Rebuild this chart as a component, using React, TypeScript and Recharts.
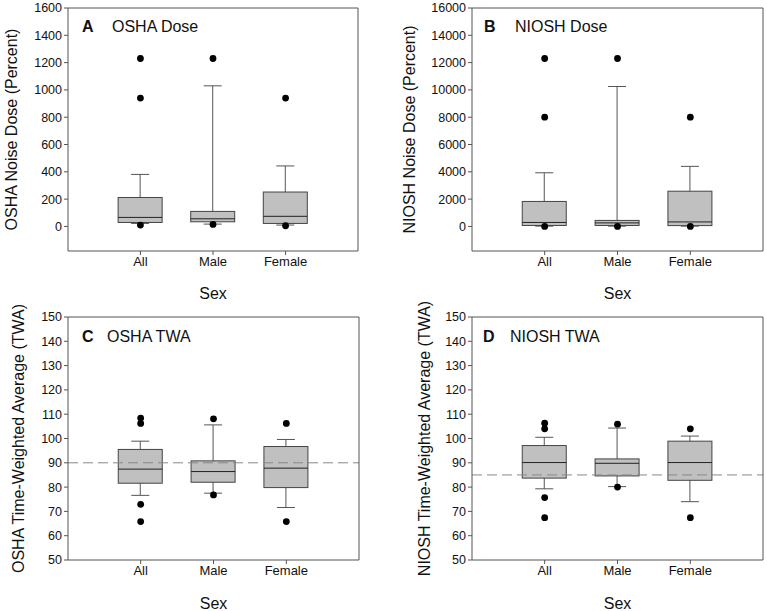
import React from 'react';
import { ComposedChart, Bar, Scatter, XAxis, YAxis, ReferenceLine } from 'recharts';

const sexes = ['All', 'Male', 'Female'];

// A - OSHA dose (percent)
const oshaDoseLow = [22, 17, 10];
const oshaDoseQ1 = [29, 34, 22];
const oshaDoseMedian = [66, 56, 74];
const oshaDoseQ3 = [212, 110, 252];
const oshaDoseHigh = [381, 1030, 443];
const oshaDoseOutSex = ['All', 'All', 'All', 'Male', 'Male', 'Female', 'Female'];
const oshaDoseOutVal = [1230, 940, 10, 1230, 15, 940, 5];
const oshaDoseTicks = [0, 200, 400, 600, 800, 1000, 1200, 1400, 1600];

// B - NIOSH dose (percent)
const nioshDoseLow = [20, 20, 20];
const nioshDoseQ1 = [70, 70, 60];
const nioshDoseMedian = [290, 260, 330];
const nioshDoseQ3 = [1830, 440, 2580];
const nioshDoseHigh = [3930, 10250, 4400];
const nioshDoseOutSex = ['All', 'All', 'All', 'Male', 'Male', 'Female', 'Female'];
const nioshDoseOutVal = [12300, 8000, 0, 12300, 0, 8000, 0];
const nioshDoseTicks = [0, 2000, 4000, 6000, 8000, 10000, 12000, 14000, 16000];

// C - OSHA TWA
const oshaTwaLow = [76.6, 77.5, 71.6];
const oshaTwaQ1 = [81.6, 82, 79.8];
const oshaTwaMedian = [87.4, 86.4, 87.8];
const oshaTwaQ3 = [95.5, 90.8, 96.7];
const oshaTwaHigh = [98.9, 105.6, 99.6];
const oshaTwaOutSex = ['All', 'All', 'All', 'All', 'Male', 'Male', 'Female', 'Female'];
const oshaTwaOutVal = [108.4, 106.2, 72.9, 65.8, 108.1, 76.8, 106.2, 65.8];

// D - NIOSH TWA
const nioshTwaLow = [79.3, 80.2, 74];
const nioshTwaQ1 = [83.7, 84.6, 82.8];
const nioshTwaMedian = [90.1, 89.8, 90.1];
const nioshTwaQ3 = [97.1, 91.6, 98.9];
const nioshTwaHigh = [100.5, 104.3, 101];
const nioshTwaOutSex = ['All', 'All', 'All', 'All', 'Male', 'Male', 'Female', 'Female'];
const nioshTwaOutVal = [106.3, 104, 75.7, 67.4, 105.9, 80, 104, 67.4];

const twaTicks = [50, 60, 70, 80, 90, 100, 110, 120, 130, 140, 150];

const AXIS = '#555';
const TEXT = '#111';

function boxes(low: number[], q1: number[], med: number[], q3: number[], high: number[]) {
  return sexes.map((sex, i) => ({ sex, low: low[i], q1: q1[i], med: med[i], q3: q3[i], high: high[i] }));
}

function outliers(sex: string[], val: number[]) {
  return sex.map((s, i) => ({ sex: s, v: val[i] }));
}

function BoxShape(props: any) {
  const { x, y, width, height, payload } = props;
  const top = Math.min(y, y + height);
  const bottom = Math.max(y, y + height);
  const span = payload.high - payload.low;
  const py = (v: number) => top + ((payload.high - v) / span) * (bottom - top);
  const cx = x + width / 2;
  const cap = 9;
  return (
    <g>
      <line x1={cx} x2={cx} y1={py(payload.high)} y2={py(payload.low)} stroke="#555" />
      <line x1={cx - cap} x2={cx + cap} y1={py(payload.high)} y2={py(payload.high)} stroke="#555" />
      <line x1={cx - cap} x2={cx + cap} y1={py(payload.low)} y2={py(payload.low)} stroke="#555" />
      <rect x={x} y={py(payload.q3)} width={width} height={py(payload.q1) - py(payload.q3)} fill="#c0c0c0" stroke="#444" />
      <line x1={x} x2={x + width} y1={py(payload.med)} y2={py(payload.med)} stroke="#222" />
    </g>
  );
}

const dot = (p: any) => <circle cx={p.cx} cy={p.cy} r={3.4} fill="#000" />;

type PanelProps = {
  left: number;
  top: number;
  width: number;
  height: number;
  yAxisWidth: number;
  marginTop: number;
  marginRight: number;
  xAxisHeight: number;
  sexOffset: number;
  yLabel: string;
  yLabelOffset: number;
  domain: [number, number];
  ticks: number[];
  data: any[];
  outs: any[];
  refY?: number;
};

function Panel(p: PanelProps) {
  const plotW = p.width - p.yAxisWidth - p.marginRight;
  const pad = plotW / 8;
  return (
    <div style={{ position: 'absolute', left: p.left, top: p.top }}>
      <ComposedChart
        width={p.width}
        height={p.height}
        data={p.data}
        margin={{ top: p.marginTop - 1, right: p.marginRight - 1, bottom: 0, left: 0 }}
      >
        <XAxis
          dataKey="sex"
          type="category"
          allowDuplicatedCategory={false}
          padding={{ left: pad, right: pad }}
          height={p.xAxisHeight}
          stroke={AXIS}
          tickSize={4}
          tick={{ fill: TEXT, fontSize: 13 }}
          label={{ value: 'Sex', position: 'insideBottom', offset: p.sexOffset, fill: TEXT, fontSize: 16 }}
        />
        <XAxis
          xAxisId="top"
          orientation="top"
          dataKey="sex"
          allowDuplicatedCategory={false}
          height={1}
          tick={false}
          tickLine={false}
          stroke={AXIS}
        />
        <YAxis
          domain={p.domain}
          ticks={p.ticks}
          allowDataOverflow
          width={p.yAxisWidth}
          stroke={AXIS}
          tickSize={4}
          interval={0}
          tick={{ fill: TEXT, fontSize: 12.5 }}
          label={{
            value: p.yLabel,
            angle: -90,
            position: 'insideLeft',
            offset: p.yLabelOffset,
            fill: TEXT,
            fontSize: 16,
            style: { textAnchor: 'middle' },
          }}
        />
        <YAxis
          yAxisId="right"
          orientation="right"
          domain={p.domain}
          ticks={p.ticks}
          allowDataOverflow
          width={1}
          mirror
          tick={false}
          tickSize={4}
          interval={0}
          stroke={AXIS}
        />
        {p.refY !== undefined && (
          <ReferenceLine y={p.refY} stroke="#888" strokeDasharray="10 5" />
        )}
        <Bar
          dataKey={(d: any) => [d.low, d.high]}
          barSize={44}
          shape={BoxShape}
          isAnimationActive={false}
        />
        <Scatter data={p.outs} dataKey="v" shape={dot} isAnimationActive={false} />
      </ComposedChart>
    </div>
  );
}

export default function App() {
  return (
    <div style={{ position: 'relative', width: 767, height: 611, background: '#fff', fontFamily: '"Liberation Sans", Arial, sans-serif' }}>
      <style>{'body{margin:0}'}</style>
      <Panel
        left={0} top={0} width={384} height={306}
        yAxisWidth={68} marginTop={8} marginRight={27} xAxisHeight={55} sexOffset={7}
        yLabel="OSHA Noise Dose (Percent)" yLabelOffset={11}
        domain={[-180, 1600]} ticks={oshaDoseTicks}
        data={boxes(oshaDoseLow, oshaDoseQ1, oshaDoseMedian, oshaDoseQ3, oshaDoseHigh)}
        outs={outliers(oshaDoseOutSex, oshaDoseOutVal)}
      />
      <Panel
        left={384} top={0} width={383} height={306}
        yAxisWidth={88} marginTop={8} marginRight={5} xAxisHeight={55} sexOffset={7}
        yLabel="NIOSH Noise Dose (Percent)" yLabelOffset={25}
        domain={[-1800, 16000]} ticks={nioshDoseTicks}
        data={boxes(nioshDoseLow, nioshDoseQ1, nioshDoseMedian, nioshDoseQ3, nioshDoseHigh)}
        outs={outliers(nioshDoseOutSex, nioshDoseOutVal)}
      />
      <Panel
        left={0} top={300} width={384} height={311}
        yAxisWidth={68} marginTop={17} marginRight={26} xAxisHeight={51} sexOffset={2}
        yLabel="OSHA Time-Weighted Average (TWA)" yLabelOffset={18}
        domain={[50, 150]} ticks={twaTicks}
        data={boxes(oshaTwaLow, oshaTwaQ1, oshaTwaMedian, oshaTwaQ3, oshaTwaHigh)}
        outs={outliers(oshaTwaOutSex, oshaTwaOutVal)}
        refY={90}
      />
      <Panel
        left={384} top={300} width={383} height={311}
        yAxisWidth={88} marginTop={17} marginRight={5} xAxisHeight={51} sexOffset={2}
        yLabel="NIOSH Time-Weighted Average (TWA)" yLabelOffset={40}
        domain={[50, 150]} ticks={twaTicks}
        data={boxes(nioshTwaLow, nioshTwaQ1, nioshTwaMedian, nioshTwaQ3, nioshTwaHigh)}
        outs={outliers(nioshTwaOutSex, nioshTwaOutVal)}
        refY={85}
      />
      <svg width={767} height={611} style={{ position: 'absolute', left: 0, top: 0, pointerEvents: 'none' }}>
        <g fill={TEXT} fontSize={16}>
          <text x={82} y={32} fontWeight="bold">A</text>
          <text x={112} y={32}>OSHA Dose</text>
          <text x={484} y={32} fontWeight="bold">B</text>
          <text x={515} y={32}>NIOSH Dose</text>
          <text x={82} y={342} fontWeight="bold">C</text>
          <text x={107} y={342}>OSHA TWA</text>
          <text x={483} y={342} fontWeight="bold">D</text>
          <text x={510} y={342}>NIOSH TWA</text>
        </g>
      </svg>
    </div>
  );
}
